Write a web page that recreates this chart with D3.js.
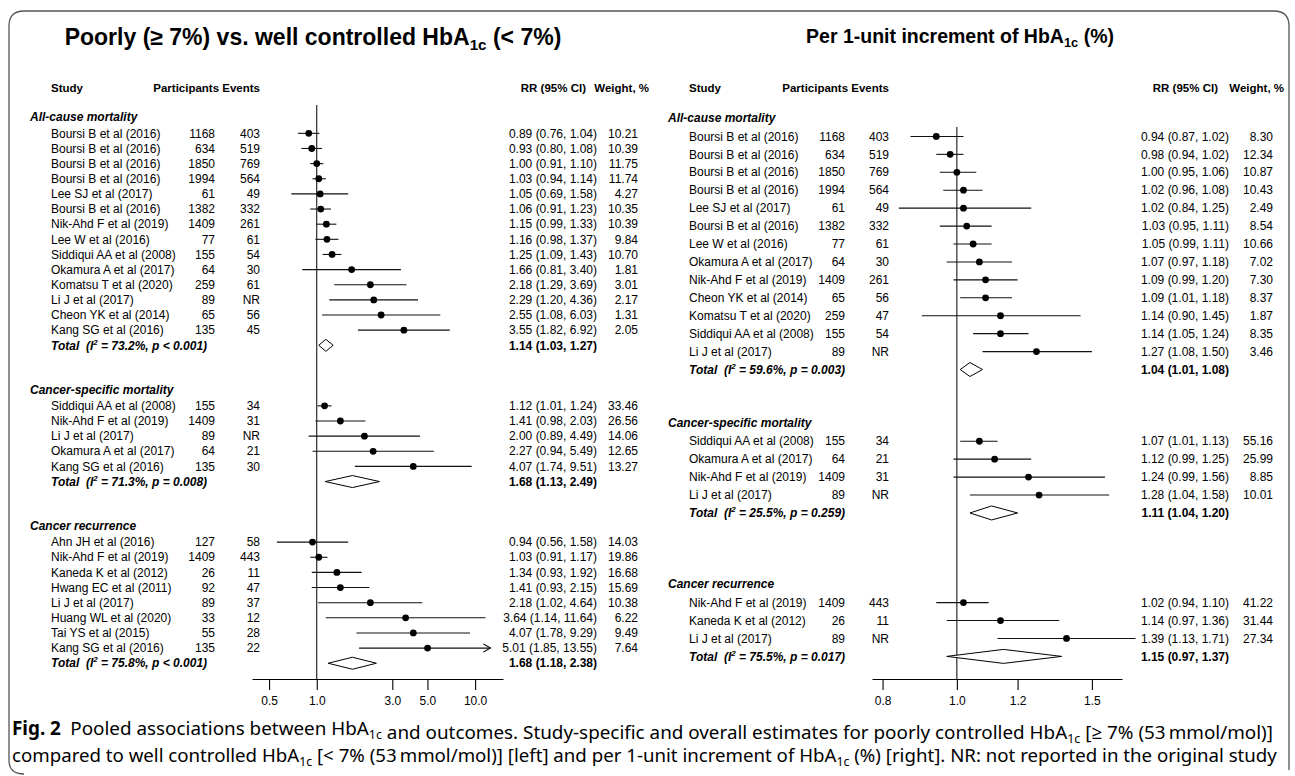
<!DOCTYPE html>
<html>
<head>
<meta charset="utf-8">
<script src="https://cdn.jsdelivr.net/npm/d3@7"></script>
<style>
  body { margin: 0; background: #fff; }
  svg text { font-family: "Liberation Sans", Arial, sans-serif; fill: #000; }
</style>
</head>
<body>
<svg id="chart" width="1295" height="776"></svg>
<script>
// ---------- data ----------
var groupNames = ["All-cause mortality", "Cancer-specific mortality", "Cancer recurrence"];

// [study, participants, events, RR, lower, upper, weight %]
var leftAllCause = [
  ["Boursi B et al (2016)", 1168, 403, 0.89, 0.76, 1.04, 10.21],
  ["Boursi B et al (2016)", 634, 519, 0.93, 0.80, 1.08, 10.39],
  ["Boursi B et al (2016)", 1850, 769, 1.00, 0.91, 1.10, 11.75],
  ["Boursi B et al (2016)", 1994, 564, 1.03, 0.94, 1.14, 11.74],
  ["Lee SJ et al (2017)", 61, 49, 1.05, 0.69, 1.58, 4.27],
  ["Boursi B et al (2016)", 1382, 332, 1.06, 0.91, 1.23, 10.35],
  ["Nik-Ahd F et al (2019)", 1409, 261, 1.15, 0.99, 1.33, 10.39],
  ["Lee W et al (2016)", 77, 61, 1.16, 0.98, 1.37, 9.84],
  ["Siddiqui AA et al (2008)", 155, 54, 1.25, 1.09, 1.43, 10.70],
  ["Okamura A et al (2017)", 64, 30, 1.66, 0.81, 3.40, 1.81],
  ["Komatsu T et al (2020)", 259, 61, 2.18, 1.29, 3.69, 3.01],
  ["Li J et al (2017)", 89, "NR", 2.29, 1.20, 4.36, 2.17],
  ["Cheon YK et al (2014)", 65, 56, 2.55, 1.08, 6.03, 1.31],
  ["Kang SG et al (2016)", 135, 45, 3.55, 1.82, 6.92, 2.05]
];
var leftCancerSpecific = [
  ["Siddiqui AA et al (2008)", 155, 34, 1.12, 1.01, 1.24, 33.46],
  ["Nik-Ahd F et al (2019)", 1409, 31, 1.41, 0.98, 2.03, 26.56],
  ["Li J et al (2017)", 89, "NR", 2.00, 0.89, 4.49, 14.06],
  ["Okamura A et al (2017)", 64, 21, 2.27, 0.94, 5.49, 12.65],
  ["Kang SG et al (2016)", 135, 30, 4.07, 1.74, 9.51, 13.27]
];
var leftRecurrence = [
  ["Ahn JH et al (2016)", 127, 58, 0.94, 0.56, 1.58, 14.03],
  ["Nik-Ahd F et al (2019)", 1409, 443, 1.03, 0.91, 1.17, 19.86],
  ["Kaneda K et al (2012)", 26, 11, 1.34, 0.93, 1.92, 16.68],
  ["Hwang EC et al (2011)", 92, 47, 1.41, 0.93, 2.15, 15.69],
  ["Li J et al (2017)", 89, 37, 2.18, 1.02, 4.64, 10.38],
  ["Huang WL et al (2020)", 33, 12, 3.64, 1.14, 11.64, 6.22],
  ["Tai YS et al (2015)", 55, 28, 4.07, 1.78, 9.29, 9.49],
  ["Kang SG et al (2016)", 135, 22, 5.01, 1.85, 13.55, 7.64]
];
// [I², p, RR, lower, upper]
var leftTotals = [
  ["73.2%", "p < 0.001", 1.14, 1.03, 1.27],
  ["71.3%", "p = 0.008", 1.68, 1.13, 2.49],
  ["75.8%", "p < 0.001", 1.68, 1.18, 2.38]
];

var rightAllCause = [
  ["Boursi B et al (2016)", 1168, 403, 0.94, 0.87, 1.02, 8.30],
  ["Boursi B et al (2016)", 634, 519, 0.98, 0.94, 1.02, 12.34],
  ["Boursi B et al (2016)", 1850, 769, 1.00, 0.95, 1.06, 10.87],
  ["Boursi B et al (2016)", 1994, 564, 1.02, 0.96, 1.08, 10.43],
  ["Lee SJ et al (2017)", 61, 49, 1.02, 0.84, 1.25, 2.49],
  ["Boursi B et al (2016)", 1382, 332, 1.03, 0.95, 1.11, 8.54],
  ["Lee W et al (2016)", 77, 61, 1.05, 0.99, 1.11, 10.66],
  ["Okamura A et al (2017)", 64, 30, 1.07, 0.97, 1.18, 7.02],
  ["Nik-Ahd F et al (2019)", 1409, 261, 1.09, 0.99, 1.20, 7.30],
  ["Cheon YK et al (2014)", 65, 56, 1.09, 1.01, 1.18, 8.37],
  ["Komatsu T et al (2020)", 259, 47, 1.14, 0.90, 1.45, 1.87],
  ["Siddiqui AA et al (2008)", 155, 54, 1.14, 1.05, 1.24, 8.35],
  ["Li J et al (2017)", 89, "NR", 1.27, 1.08, 1.50, 3.46]
];
var rightCancerSpecific = [
  ["Siddiqui AA et al (2008)", 155, 34, 1.07, 1.01, 1.13, 55.16],
  ["Okamura A et al (2017)", 64, 21, 1.12, 0.99, 1.25, 25.99],
  ["Nik-Ahd F et al (2019)", 1409, 31, 1.24, 0.99, 1.56, 8.85],
  ["Li J et al (2017)", 89, "NR", 1.28, 1.04, 1.58, 10.01]
];
var rightRecurrence = [
  ["Nik-Ahd F et al (2019)", 1409, 443, 1.02, 0.94, 1.10, 41.22],
  ["Kaneda K et al (2012)", 26, 11, 1.14, 0.97, 1.36, 31.44],
  ["Li J et al (2017)", 89, "NR", 1.39, 1.13, 1.71, 27.34]
];
var rightTotals = [
  ["59.6%", "p = 0.003", 1.04, 1.01, 1.08],
  ["25.5%", "p = 0.259", 1.11, 1.04, 1.20],
  ["75.5%", "p = 0.017", 1.15, 0.97, 1.37]
];

var leftTicks = [0.5, 1, 3, 5, 10];
var rightTicks = [0.8, 1, 1.2, 1.5];

// ---------- layout ----------
var svg = d3.select("#chart");
var fmt2 = d3.format(".2f");

// frame
svg.append("path")
  .attr("d", "M24,774 Q9,774 9,760 L9,26 Q9,11 24,11 L1274,11 Q1289,11 1289,26 L1289,770")
  .attr("fill", "none").attr("stroke", "#555").attr("stroke-width", 1.3);

function addHbA(sel, size, before, after) {
  sel.append("tspan").text(before + "HbA");
  sel.append("tspan").attr("class", "sub").attr("font-size", size * 0.66).attr("dy", size * 0.2).text("1c");
  sel.append("tspan").attr("class", "back").attr("dy", -size * 0.2).text(after);
}

var panels = [
  {
    groups: [leftAllCause, leftCancerSpecific, leftRecurrence], totals: leftTotals, ticks: leftTicks,
    domain: [0.39, 15], range: [252, 503], arrowCut: 12.5,
    catX: 30, nameX: 51, partX: 215, evX: 260, rrX: 597, wX: 638,
    y0: 118.2, rowH: 15.14, starts: [0, 18, 27], nullTop: 105, diamondH: 6,
    titleX: 313, titleY: 45, titleSize: 23,
    titleBefore: "Poorly (\u2265 7%) vs. well controlled ", titleAfter: " (< 7%)"
  },
  {
    groups: [rightAllCause, rightCancerSpecific, rightRecurrence], totals: rightTotals, ticks: rightTicks,
    domain: [0.775, 1.642], range: [872, 1122], arrowCut: 99,
    catX: 668, nameX: 689, partX: 845, evX: 889, rrX: 1229, wX: 1273,
    y0: 118.5, rowH: 17.93, starts: [0, 17, 26], nullTop: 127, diamondH: 7,
    titleX: 960, titleY: 43, titleSize: 19.5,
    titleBefore: "Per 1-unit increment of ", titleAfter: " (%)"
  }
];

var axisY = 679;

panels.forEach(function(p) {
  var g = svg.append("g");
  var x = d3.scaleLog().domain(p.domain).range(p.range);
  var rowY = function(i) { return p.y0 + i * p.rowH; };

  // title
  var t = g.append("text").attr("x", p.titleX).attr("y", p.titleY)
    .attr("text-anchor", "middle").attr("font-size", p.titleSize).attr("font-weight", "bold");
  addHbA(t, p.titleSize, p.titleBefore, p.titleAfter);

  // column headers
  var hy = 88;
  g.append("text").attr("x", p.nameX).attr("y", hy).attr("dy", "0.35em")
    .attr("font-size", 11.5).attr("font-weight", "bold").text("Study");
  g.append("text").attr("x", p.evX).attr("y", hy).attr("dy", "0.35em").attr("text-anchor", "end")
    .attr("font-size", 11.5).attr("font-weight", "bold").text("Participants Events");
  g.append("text").attr("x", p.rrX - 11).attr("y", hy).attr("dy", "0.35em").attr("text-anchor", "end")
    .attr("font-size", 11.5).attr("font-weight", "bold").text("RR (95% CI)");
  g.append("text").attr("x", p.wX + 11).attr("y", hy).attr("dy", "0.35em").attr("text-anchor", "end")
    .attr("font-size", 11.5).attr("font-weight", "bold").text("Weight, %");

  // null line
  g.append("line").attr("x1", x(1)).attr("x2", x(1))
    .attr("y1", p.nullTop).attr("y2", axisY).attr("stroke", "#000").attr("stroke-width", 1);

  // axis
  var ax = g.append("g").attr("transform", "translate(0," + axisY + ")")
    .call(d3.axisBottom(x).tickValues(p.ticks).tickFormat(d3.format(".1f"))
      .tickSize(11).tickSizeOuter(0).tickPadding(6));
  ax.selectAll("path, line").attr("stroke", "#000").attr("stroke-width", 1.1);
  ax.selectAll("text").attr("font-size", 12).attr("font-family", "Liberation Sans, Arial, sans-serif");

  p.groups.forEach(function(rows, gi) {
    var start = p.starts[gi];
    g.append("text").attr("x", p.catX).attr("y", rowY(start) - 1).attr("dy", "0.35em")
      .attr("font-size", 12).attr("font-weight", "bold").attr("font-style", "italic")
      .text(groupNames[gi]);

    var rg = g.selectAll(null).data(rows).enter().append("g")
      .attr("transform", function(d, i) { return "translate(0," + rowY(start + 1 + i) + ")"; });

    rg.append("line")
      .attr("x1", function(d) { return x(d[4]); })
      .attr("x2", function(d) { return x(Math.min(d[5], p.arrowCut)); })
      .attr("stroke", "#111").attr("stroke-width", 1.1);
    rg.filter(function(d) { return d[5] > p.arrowCut; }).append("path")
      .attr("d", function() { var tx = x(p.arrowCut); return "M" + (tx - 7) + ",-4 L" + tx + ",0 L" + (tx - 7) + ",4"; })
      .attr("fill", "none").attr("stroke", "#111").attr("stroke-width", 1.1);
    rg.append("circle").attr("cx", function(d) { return x(d[3]); }).attr("r", 3.4).attr("fill", "#000");

    rg.append("text").attr("x", p.nameX).attr("dy", "0.35em").attr("font-size", 12)
      .text(function(d) { return d[0]; });
    rg.append("text").attr("x", p.partX).attr("dy", "0.35em").attr("font-size", 12).attr("text-anchor", "end")
      .text(function(d) { return d[1]; });
    rg.append("text").attr("x", p.evX).attr("dy", "0.35em").attr("font-size", 12).attr("text-anchor", "end")
      .text(function(d) { return d[2]; });
    rg.append("text").attr("x", p.rrX).attr("dy", "0.35em").attr("font-size", 12).attr("text-anchor", "end")
      .text(function(d) { return fmt2(d[3]) + " (" + fmt2(d[4]) + ", " + fmt2(d[5]) + ")"; });
    rg.append("text").attr("x", p.wX).attr("dy", "0.35em").attr("font-size", 12).attr("text-anchor", "end")
      .text(function(d) { return fmt2(d[6]); });

    // pooled total
    var tot = p.totals[gi];
    var ty = rowY(start + rows.length + 1);
    var h = p.diamondH;
    g.append("polygon")
      .attr("points", [[x(tot[3]), ty], [x(tot[2]), ty - h], [x(tot[4]), ty], [x(tot[2]), ty + h]].join(" "))
      .attr("fill", "#fff").attr("stroke", "#000").attr("stroke-width", 1);
    var tl = g.append("text").attr("x", p.nameX).attr("y", ty).attr("dy", "0.35em")
      .attr("font-size", 12).attr("font-weight", "bold").attr("font-style", "italic")
      .attr("xml:space", "preserve");
    tl.append("tspan").text("Total  (I");
    tl.append("tspan").attr("font-size", 8).attr("dy", -5).text("2");
    tl.append("tspan").attr("dy", 5).text(" = " + tot[0] + ", " + tot[1] + ")");
    g.append("text").attr("x", p.rrX).attr("y", ty).attr("dy", "0.35em").attr("text-anchor", "end")
      .attr("font-size", 12).attr("font-weight", "bold")
      .text(fmt2(tot[2]) + " (" + fmt2(tot[3]) + ", " + fmt2(tot[4]) + ")");
  });
});

// caption
var capFont = "'Noto Sans', 'Open Sans', sans-serif";
var cap = svg.append("g");
var c1 = cap.append("text").attr("x", 12).attr("y", 735).attr("font-size", 17).style("font-family", capFont);
c1.append("tspan").attr("font-weight", "bold").text("Fig. 2");
addHbA(c1, 17, "\u2002Pooled associations between ", "");
addHbA(c1, 17, " and outcomes. Study-specific and overall estimates for poorly controlled ", " [\u2265 7% (53\u2009mmol/mol)]");
var c2 = cap.append("text").attr("x", 12).attr("y", 762).attr("font-size", 17).style("font-family", capFont);
addHbA(c2, 17, "compared to well controlled ", " [< 7% (53\u2009mmol/mol)] [left] and per 1-unit increment of ");
addHbA(c2, 17, "", " (%) [right]. NR: not reported in the original study");

// fit each caption line to the frame width
[[c1, 1262], [c2, 1266]].forEach(function(pair) {
  var c = pair[0];
  var fs = 17 * pair[1] / c.node().getComputedTextLength();
  c.attr("font-size", fs);
  c.selectAll("tspan.sub").attr("font-size", fs * 0.66).attr("dy", fs * 0.2);
  c.selectAll("tspan.back").attr("dy", -fs * 0.2);
});
</script>
</body>
</html>
